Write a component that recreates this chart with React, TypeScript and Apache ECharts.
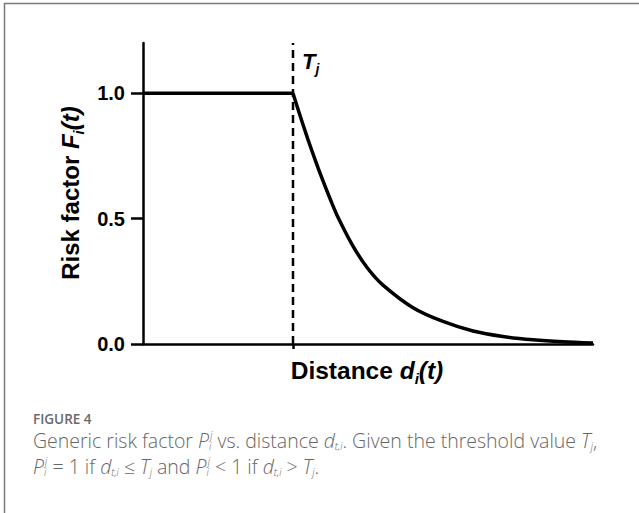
import React, { useEffect, useRef } from "react";
import * as echarts from "echarts";

const W = 639;
const H = 513;

// Axis ticks and the threshold position
const yTickValues = [0, 0.5, 1.0];
const xTickValues = [1];
const yMax = 1.2;
const xMax = 3;

// Risk factor stays at 1 up to the threshold T_j ...
const flatX = [0, 1];
const flatY = [1, 1];
// ... and decays towards 0 beyond it
const decayX = [1.0, 1.05, 1.1, 1.15, 1.2, 1.25, 1.3, 1.4, 1.5, 1.6, 1.8, 2.0, 2.2, 2.4, 2.6, 2.8, 3.0];
const decayY = [1.0, 0.905, 0.815, 0.73, 0.65, 0.575, 0.505, 0.39, 0.3, 0.235, 0.145, 0.09, 0.052, 0.03, 0.017, 0.009, 0.004];
// Dashed vertical marker at the threshold
const thresholdX = [1, 1];
const thresholdY = [0, 1.2];

const CHART_FONT = '"Liberation Sans", Arial, sans-serif';
const CAPTION_FONT = '"Open Sans", sans-serif';

type Seg = {
  t?: string;
  it?: boolean;
  pos?: "base" | "sub" | "sup";
  sub?: string;
  sup?: string;
};

type FontSpec = {
  size: number;
  small?: number;
  weight: number | string;
  family: string;
  color: string;
  subY?: number;
  supY?: number;
};

const measureCtx = (() => {
  const c = document.createElement("canvas");
  return c.getContext("2d") as CanvasRenderingContext2D;
})();

function textWidth(text: string, font: string) {
  measureCtx.font = font;
  return measureCtx.measureText(text).width;
}

// Lays out a line of text with italic pieces, subscripts and superscripts
function mathLine(segs: Seg[], f: FontSpec) {
  const els: any[] = [];
  let cx = 0;
  const S = f.size;
  const s = f.small ?? Math.round(S * 0.62);
  const mk = (text: string, x: number, y: number, size: number, italic: boolean) => {
    els.push({
      type: "text",
      x,
      y,
      style: {
        text,
        fill: f.color,
        fontSize: size,
        fontWeight: f.weight,
        fontStyle: italic ? "italic" : "normal",
        fontFamily: f.family,
        align: "left",
        textAlign: "left",
        verticalAlign: "middle",
        textVerticalAlign: "middle",
      },
    });
  };
  const fontStr = (size: number, italic: boolean) =>
    `${italic ? "italic " : ""}${f.weight} ${size}px ${f.family}`;
  const subY = (f.subY ?? 0.36) * S;
  const supY = (f.supY ?? -0.3) * S;
  for (const g of segs) {
    if (g.sub !== undefined || g.sup !== undefined) {
      let w = 0;
      if (g.sup) {
        mk(g.sup, cx + S * 0.06, supY, s, !!g.it);
        w = Math.max(w, textWidth(g.sup, fontStr(s, !!g.it)) + S * 0.06);
      }
      if (g.sub) {
        mk(g.sub, cx, subY, s, !!g.it);
        w = Math.max(w, textWidth(g.sub, fontStr(s, !!g.it)));
      }
      cx += w;
      continue;
    }
    const t = g.t || "";
    const pos = g.pos || "base";
    const size = pos === "base" ? S : s;
    const y = pos === "sub" ? subY : pos === "sup" ? supY : 0;
    mk(t, cx, y, size, !!g.it);
    cx += textWidth(t, fontStr(size, !!g.it));
  }
  return { els, width: cx };
}

function buildOption() {
  const axisFont: FontSpec = { size: 24, weight: "bold", family: CHART_FONT, color: "#000" };
  const captionFont: FontSpec = {
    size: 19.5,
    small: 10,
    weight: 300,
    family: CAPTION_FONT,
    color: "#666",
    subY: 0.3,
    supY: -0.28,
  };

  const yTitle = mathLine(
    [{ t: "Risk factor " }, { t: "F", it: true }, { t: "i", it: true, pos: "sub" }, { t: "(t)", it: true }],
    axisFont
  );
  const xTitle = mathLine(
    [{ t: "Distance " }, { t: "d", it: true }, { t: "i", it: true, pos: "sub" }, { t: "(t)", it: true }],
    { ...axisFont, size: 24.5 }
  );
  const tLabel = mathLine(
    [{ t: "T", it: true }, { t: "j", it: true, pos: "sub" }],
    { size: 22, weight: "bold", family: CHART_FONT, color: "#000" }
  );

  const P: Seg[] = [{ t: "P", it: true }, { sup: "j", sub: "i", it: true }];
  const D: Seg[] = [{ t: "d", it: true }, { t: "t,i", it: true, pos: "sub" }];
  const T: Seg[] = [{ t: "T", it: true }, { t: "j", it: true, pos: "sub" }];

  const cap1 = mathLine(
    [
      { t: "Generic risk factor " },
      ...P,
      { t: " vs. distance " },
      ...D,
      { t: ". Given the threshold value " },
      ...T,
      { t: "," },
    ],
    captionFont
  );
  const cap2 = mathLine(
    [
      ...P,
      { t: " = 1 if " },
      ...D,
      { t: " \u2264 " },
      ...T,
      { t: " and " },
      ...P,
      { t: " < 1 if " },
      ...D,
      { t: " > " },
      ...T,
      { t: "." },
    ],
    captionFont
  );

  const curve = decayX.map((x, i) => [x, decayY[i]]);
  const flat = flatX.map((x, i) => [x, flatY[i]]);
  const dashed = thresholdX.map((x, i) => [x, thresholdY[i]]);

  return {
    animation: false,
    backgroundColor: "#fff",
    grid: { left: 143, right: 46, top: 43, bottom: 169 },
    xAxis: {
      type: "value",
      min: 0,
      max: xMax,
      axisLine: { show: true, onZero: false, lineStyle: { color: "#000", width: 2.5 } },
      axisTick: { show: true, customValues: xTickValues, length: 5, lineStyle: { color: "#000", width: 2.5 } },
      axisLabel: { show: false },
      splitLine: { show: false },
    },
    yAxis: {
      type: "value",
      min: 0,
      max: yMax,
      axisLine: { show: true, lineStyle: { color: "#000", width: 2.5 } },
      axisTick: { show: true, customValues: yTickValues, length: 12, lineStyle: { color: "#000", width: 2.5 } },
      axisLabel: {
        show: true,
        customValues: yTickValues,
        formatter: (v: number) => v.toFixed(1),
        fontSize: 20,
        fontWeight: "bold",
        fontFamily: CHART_FONT,
        color: "#000",
        margin: 18,
      },
      splitLine: { show: false },
    },
    series: [
      {
        type: "line",
        data: dashed,
        showSymbol: false,
        lineStyle: { color: "#000", width: 2.5, type: [8, 5] },
        z: 1,
      },
      {
        type: "line",
        data: flat,
        showSymbol: false,
        lineStyle: { color: "#000", width: 3.5 },
        z: 2,
      },
      {
        type: "line",
        data: curve,
        showSymbol: false,
        smooth: 0.3,
        lineStyle: { color: "#000", width: 3.5, cap: "butt" },
        z: 2,
      },
    ],
    graphic: [
      {
        type: "polyline",
        shape: { points: [[4.5, H], [4.5, 3.5], [W, 3.5]] },
        style: { stroke: "#7a7a7a", lineWidth: 1.5, fill: null },
        silent: true,
      },
      { type: "group", x: 302, y: 61, children: tLabel.els },
      {
        type: "group",
        x: 70,
        y: 193,
        rotation: Math.PI / 2,
        children: yTitle.els.map((e: any) => ({ ...e, x: e.x - yTitle.width / 2 })),
      },
      {
        type: "group",
        x: 367,
        y: 370,
        children: xTitle.els.map((e: any) => ({ ...e, x: e.x - xTitle.width / 2 })),
      },
      {
        type: "text",
        x: 33,
        y: 419,
        style: {
          text: "FIGURE 4",
          fill: "#6a6a6a",
          fontSize: 13.5,
          fontWeight: 600,
          fontFamily: CAPTION_FONT,
          align: "left",
          verticalAlign: "middle",
          textVerticalAlign: "middle",
        },
      },
      { type: "group", x: 33, y: 440, children: cap1.els },
      { type: "group", x: 33, y: 466, children: cap2.els },
    ],
  };
}

export default function App() {
  const ref = useRef<HTMLDivElement>(null);
  useEffect(() => {
    if (!ref.current) return;
    const chart = echarts.init(ref.current, null, { renderer: "svg", width: W, height: H });
    chart.setOption(buildOption() as any);
    return () => chart.dispose();
  }, []);
  return (
    <div
      ref={ref}
      style={{ position: "fixed", left: 0, top: 0, width: W, height: H, background: "#fff" }}
    />
  );
}
